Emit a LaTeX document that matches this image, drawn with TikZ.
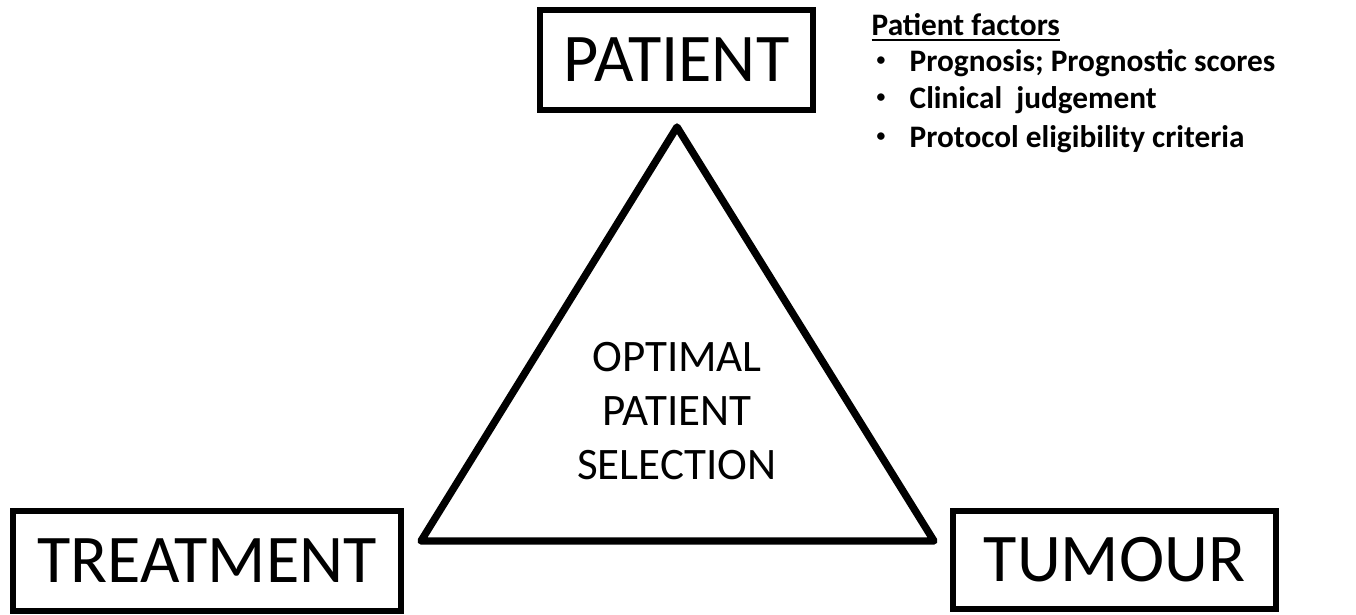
\documentclass[tikz,border=0pt]{standalone}
\usepackage{fontspec}
\setmainfont{Carlito}

\begin{document}
\begin{tikzpicture}[x=0.01cm, y=-0.01cm]

\useasboundingbox (0,0) rectangle (1356,615);

%%% Styles

\tikzstyle{corner}=[rectangle, draw, line width=1.7pt, inner sep=0pt,
                    font=\fontsize{19.4pt}{22pt}\selectfont]
\tikzstyle{factor}=[anchor=base west, inner sep=0pt,
                    font=\fontsize{8.9pt}{11pt}\selectfont\bfseries]
\tikzstyle{dot}=[anchor=base west, inner sep=0pt,
                 font=\fontsize{5pt}{6pt}\selectfont\bfseries]


% Corner Boxes

\node (patient) [corner, minimum width=2.73cm, minimum height=1.00cm]
      at (676.5, 60) {PATIENT};

\node (treatment) [corner, minimum width=3.88cm, minimum height=1.00cm]
      at (207, 561) {TREATMENT};

\node (tumour) [corner, minimum width=3.23cm, minimum height=0.98cm]
      at (1114.5, 560) {TUMOUR};


% Triangle

\coordinate (apex) at (677, 127);
\coordinate (left) at (421, 541);
\coordinate (right) at (934, 541);

\draw [line width=2.1pt, line join=round] (apex) -- (left) -- (right) -- cycle;

\node (optimal) [align=center, inner sep=0pt,
                 font=\fontsize{12.8pt}{15.4pt}\selectfont]
      at (677, 411) {OPTIMAL\\PATIENT\\SELECTION};


%%% Patient factors

\node (factors) [factor] at (871, 35) {\underline{Patient factors}};

\node (bulletA) [dot] at (876, 65)  {\textbullet};
\node (bulletB) [dot] at (876, 103) {\textbullet};
\node (bulletC) [dot] at (876, 141) {\textbullet};

\node (prognosis) [factor] at (909, 71)  {Prognosis; Prognostic scores};
\node (clinical)  [factor] at (909, 109) {Clinical\ \ judgement};
\node (protocol)  [factor] at (909, 147) {Protocol eligibility criteria};

\end{tikzpicture}
\end{document}
